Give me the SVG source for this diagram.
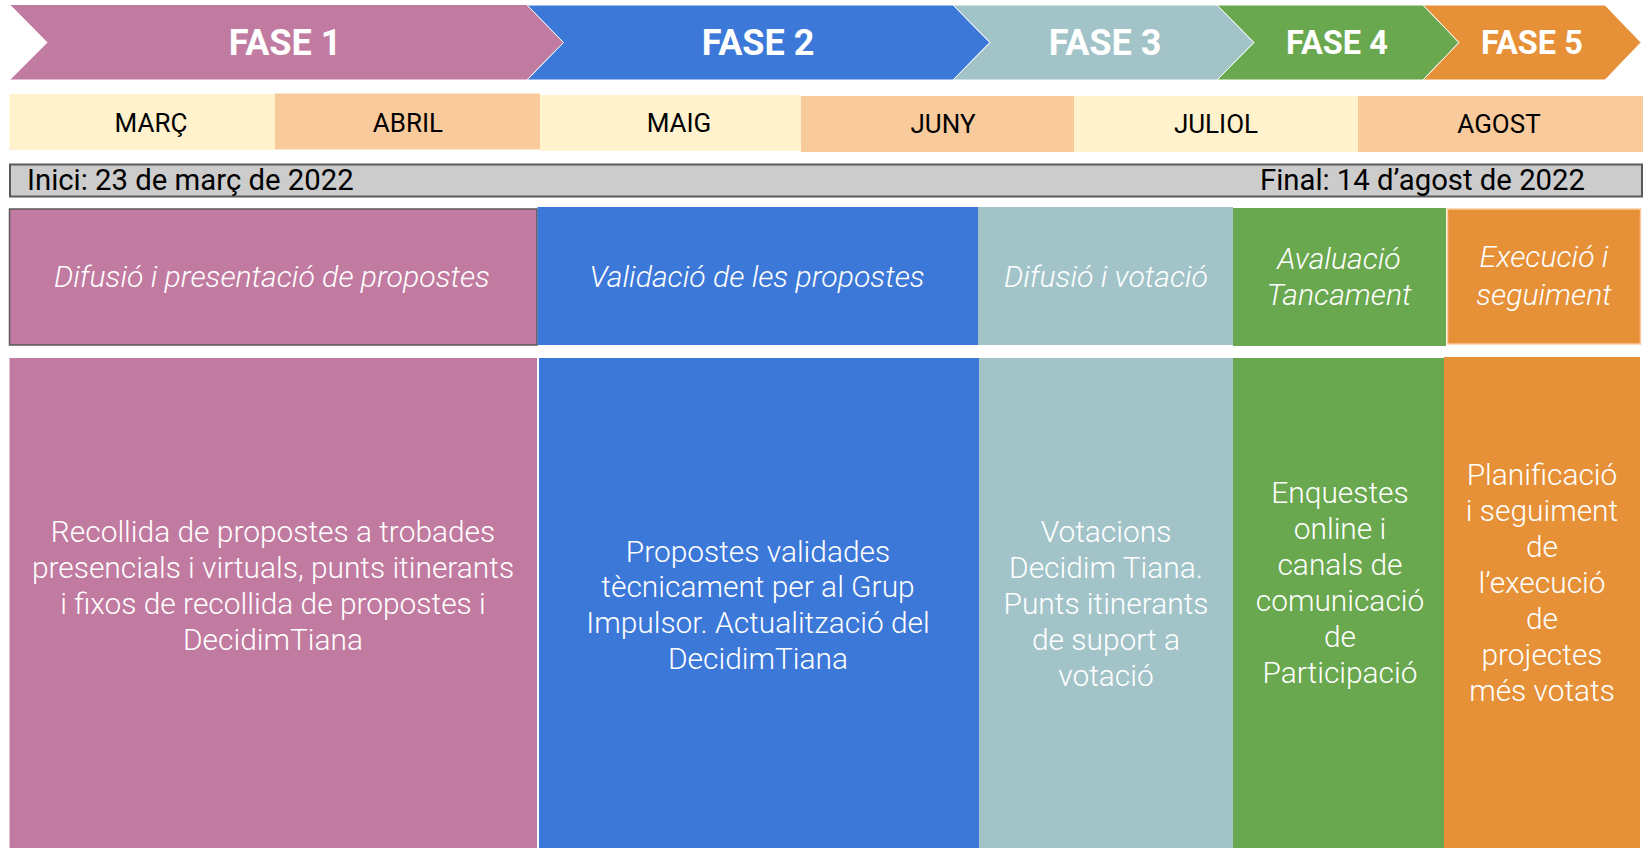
<svg xmlns="http://www.w3.org/2000/svg" width="1646" height="848" viewBox="0 0 1646 848">
<style>
.arrow{stroke:#ffffff;stroke-width:1}
.fase{font-family:Roboto,"Liberation Sans",sans-serif;font-weight:700;font-size:36px;fill:#ffffff;text-anchor:middle}
.fase.sm{font-size:32.5px}
.month{font-family:Roboto,"Liberation Sans",sans-serif;font-weight:400;font-size:26px;fill:#000000;text-anchor:middle}
.date{font-family:Roboto,"Liberation Sans",sans-serif;font-weight:400;font-size:29.3px;fill:#000000}
.head{font-family:Roboto,"Liberation Sans",sans-serif;font-weight:300;font-style:italic;font-size:30.2px;fill:#ffffff;text-anchor:middle}
.body{font-family:Roboto,"Liberation Sans",sans-serif;font-weight:300;font-size:29.9px;fill:#ffffff;text-anchor:middle}
.pink{fill:#C27BA0}.blue{fill:#3C78D8}.teal{fill:#A2C4C9}.green{fill:#6AA84F}.orange{fill:#E69138}
.yel{fill:#FFF2CC}.peach{fill:#F9CB9C}
</style>
<rect width="1646" height="848" fill="#ffffff"/>

<g id="fase1">
<polygon class="arrow pink" points="9.5,4.5 527,4.5 563.5,42.5 527,80 9.5,80 47,42.5"/>
<text class="fase" x="285" y="55">FASE 1</text>
</g>
<g id="fase2">
<polygon class="arrow blue" points="527,5 953,5 990,42.5 953,80 527,80 563.5,42.5"/>
<text class="fase" x="758" y="55">FASE 2</text>
</g>
<g id="fase3">
<polygon class="arrow teal" points="953,5 1217,5 1254,42.5 1217,80 953,80 990,42.5"/>
<text class="fase" x="1105" y="55">FASE 3</text>
</g>
<g id="fase4">
<polygon class="arrow green" points="1217,5 1423,5 1459,42.5 1423,80 1217,80 1254,42.5"/>
<text class="fase sm" x="1337" y="54">FASE 4</text>
</g>
<g id="fase5">
<polygon class="arrow orange" points="1423,5 1605,5 1641,42.5 1605,80 1423,80 1459,42.5"/>
<text class="fase sm" x="1532" y="54">FASE 5</text>
</g>

<g id="months">
<g id="m-marc"><rect class="yel" x="9.5" y="94" width="266" height="56"/><text class="month" x="151" y="132">MARÇ</text></g>
<g id="m-abril"><rect class="peach" x="275" y="93.5" width="265" height="56"/><text class="month" x="408" y="132">ABRIL</text></g>
<g id="m-maig"><rect class="yel" x="540" y="95" width="261" height="56"/><text class="month" x="679" y="132">MAIG</text></g>
<g id="m-juny"><rect class="peach" x="801" y="96" width="273" height="56"/><text class="month" x="943" y="133">JUNY</text></g>
<g id="m-juliol"><rect class="yel" x="1074" y="96" width="284" height="56"/><text class="month" x="1216" y="133">JULIOL</text></g>
<g id="m-agost"><rect class="peach" x="1358" y="96" width="285" height="56"/><text class="month" x="1499" y="133">AGOST</text></g>
</g>

<g id="dates">
<rect x="10" y="164.5" width="1632" height="32" fill="#CCCCCC" stroke="#595959" stroke-width="2"/>
<text class="date" x="27" y="190">Inici: 23 de març de 2022</text>
<text class="date" x="1585" y="190" text-anchor="end">Final: 14 d’agost de 2022</text>
</g>

<g id="head1">
<rect class="pink" x="9.5" y="209" width="527.5" height="136" stroke="#595959" stroke-width="1.5"/>
<text class="head" x="272" y="287">Difusió i presentació de propostes</text>
</g>
<g id="head2">
<rect class="blue" x="537.5" y="207" width="440.5" height="138"/>
<text class="head" x="757" y="287">Validació de les propostes</text>
</g>
<g id="head3">
<rect class="teal" x="978" y="207" width="255" height="138"/>
<text class="head" x="1106" y="287">Difusió i votació</text>
</g>
<g id="head4">
<rect class="green" x="1233" y="208" width="213" height="138"/>
<text class="head" x="1339" y="269">Avaluació</text>
<text class="head" x="1339" y="305">Tancament</text>
</g>
<g id="head5">
<rect class="orange" x="1447.5" y="209" width="193" height="135" stroke="#F9CB9C" stroke-width="1.5"/>
<text class="head" x="1544" y="267">Execució i</text>
<text class="head" x="1544" y="305">seguiment</text>
</g>

<g id="body1">
<rect class="pink" x="9.5" y="358" width="527.5" height="490"/>
<text class="body" x="273" y="542">Recollida de propostes a trobades</text>
<text class="body" x="273" y="578">presencials i virtuals, punts itinerants</text>
<text class="body" x="273" y="614">i fixos de recollida de propostes i</text>
<text class="body" x="273" y="650">DecidimTiana</text>
</g>
<g id="body2">
<rect class="blue" x="539" y="358" width="440" height="490"/>
<text class="body" x="758" y="562">Propostes validades</text>
<text class="body" x="758" y="597">tècnicament per al Grup</text>
<text class="body" x="758" y="633">Impulsor. Actualització del</text>
<text class="body" x="758" y="669">DecidimTiana</text>
</g>
<g id="body3">
<rect class="teal" x="979" y="358" width="254" height="490"/>
<text class="body" x="1106" y="542">Votacions</text>
<text class="body" x="1106" y="578">Decidim Tiana.</text>
<text class="body" x="1106" y="614">Punts itinerants</text>
<text class="body" x="1106" y="650">de suport a</text>
<text class="body" x="1106" y="686">votació</text>
</g>
<g id="body4">
<rect class="green" x="1233" y="358" width="211" height="490"/>
<text class="body" x="1340" y="503">Enquestes</text>
<text class="body" x="1340" y="539">online i</text>
<text class="body" x="1340" y="575">canals de</text>
<text class="body" x="1340" y="611">comunicació</text>
<text class="body" x="1340" y="647">de</text>
<text class="body" x="1340" y="683">Participació</text>
</g>
<g id="body5">
<rect class="orange" x="1444" y="357" width="196" height="491"/>
<text class="body" x="1542" y="485">Planificació</text>
<text class="body" x="1542" y="521">i seguiment</text>
<text class="body" x="1542" y="557">de</text>
<text class="body" x="1542" y="593">l’execució</text>
<text class="body" x="1542" y="629">de</text>
<text class="body" x="1542" y="665">projectes</text>
<text class="body" x="1542" y="701">més votats</text>
</g>
<g id="connectors"/>
</svg>
